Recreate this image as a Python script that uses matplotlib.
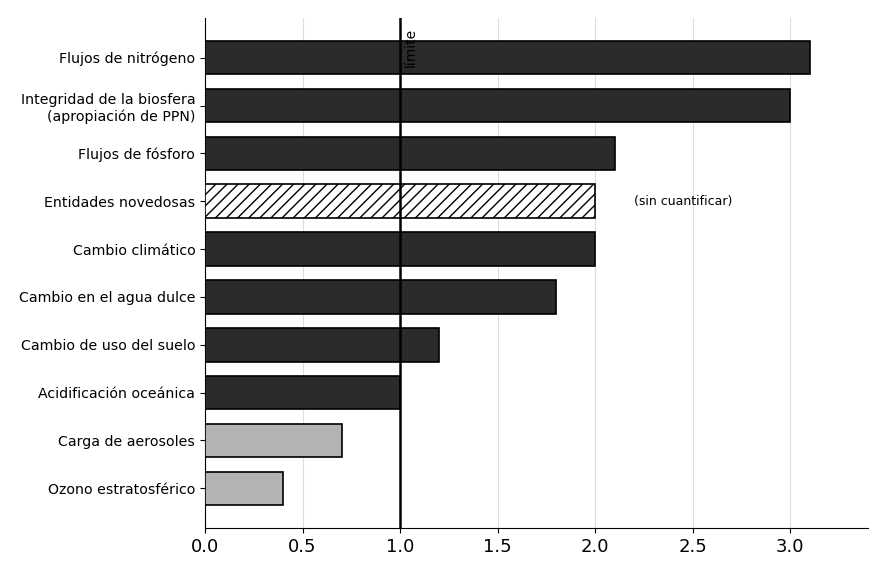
import matplotlib
matplotlib.use("Agg")
import matplotlib.pyplot as plt

categories = ["Flujos de nitrógeno", "Integridad de la biosfera\n(apropiación de PPN)",
              "Flujos de fósforo", "Entidades novedosas", "Cambio climático",
              "Cambio en el agua dulce", "Cambio de uso del suelo",
              "Acidificación oceánica", "Carga de aerosoles", "Ozono estratosférico"]
values = [3.1, 3.0, 2.1, 2.0, 2.0, 1.8, 1.2, 1.0, 0.7, 0.4]
kinds = ["over", "over", "over", "unq", "over", "over", "over", "over", "safe", "safe"]
xticks = [0.0, 0.5, 1.0, 1.5, 2.0, 2.5, 3.0]

fig = plt.figure(figsize=(8.86, 5.61), dpi=100)
ax = fig.add_axes([205/886, 1 - 528/561, (868-205)/886, (528-18)/561])

n = len(categories)
ys = [n - 1 - i for i in range(n)]
for y, v, k in zip(ys, values, kinds):
    if k == "unq":
        ax.barh(y, v, height=0.7, color="white", edgecolor="black", hatch="///", linewidth=1.2, zorder=3)
    else:
        c = "#2b2b2b" if k == "over" else "#b3b3b3"
        ax.barh(y, v, height=0.7, color=c, edgecolor="black", linewidth=1.2, zorder=3)

ax.axvline(1.0, color="black", linewidth=1.8, zorder=4)
ax.text(1.02, n - 1 + 0.63, "límite", rotation=90, va="top", ha="left", fontsize=10, zorder=5)
ax.text(2.2, ys[3], "(sin cuantificar)", va="center", ha="left", fontsize=9)

ax.set_yticks(ys)
ax.set_yticklabels(categories, fontsize=10.2)
ax.set_xticks(xticks)
ax.set_xticklabels([f"{t:.1f}" for t in xticks], fontsize=13)
ax.set_xlim(0, 3.4)
ax.set_ylim(-0.83, n - 1 + 0.83)
ax.grid(axis="x", color="#dddddd", linewidth=0.8, zorder=0)
ax.set_axisbelow(True)
for s in ["top", "right"]:
    ax.spines[s].set_visible(False)

fig.savefig("out.png", dpi=100)
